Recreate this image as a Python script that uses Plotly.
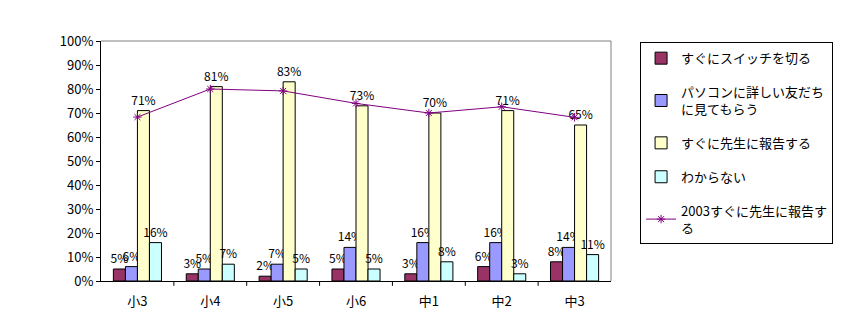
import plotly.graph_objects as go

categories = ["小3", "小4", "小5", "小6", "中1", "中2", "中3"]
switch_off = [5, 3, 2, 5, 3, 6, 8]
ask_friend = [6, 5, 7, 14, 16, 16, 14]
tell_teacher = [71, 81, 83, 73, 70, 71, 65]
dont_know = [16, 7, 5, 5, 8, 3, 11]
tell_teacher_2003 = [68.3, 80, 79.2, 74, 70, 72.6, 68.2]

series_names = [
    "すぐにスイッチを切る",
    "パソコンに詳しい友だち<br>に見てもらう",
    "すぐに先生に報告する",
    "わからない",
]
series_colors = ["#993366", "#9999FF", "#FFFFCC", "#CCFFFF"]
line_name = "2003すぐに先生に報告す<br>る"

FONT = "Noto Sans CJK JP, Liberation Sans, sans-serif"

fig = go.Figure()
for i, (name, vals, col) in enumerate(
    zip(series_names, [switch_off, ask_friend, tell_teacher, dont_know], series_colors)
):
    fig.add_trace(go.Bar(
        x=categories, y=vals, name=name,
        marker=dict(color=col, line=dict(color="black", width=1)),
        text=[f"{v}%" for v in vals], textposition="outside",
        outsidetextfont=dict(size=12, color="black", family=FONT),
        constraintext="none",
        cliponaxis=False, legendgroup=f"g{i}",
    ))

fig.add_trace(go.Scatter(
    x=categories, y=tell_teacher_2003, name=line_name, mode="lines+markers",
    line=dict(color="#800080", width=1),
    marker=dict(symbol="asterisk-open", size=7, color="#800080",
                line=dict(color="#800080", width=1)),
    legendgroup="g4",
))

fig.update_layout(
    width=857, height=336,
    margin=dict(l=101, r=246, t=41, b=55),
    paper_bgcolor="white", plot_bgcolor="white",
    barmode="group", bargap=0.34, bargroupgap=0,
    font=dict(family=FONT, size=12, color="black"),
    showlegend=True,
    legend=dict(
        x=1.057, y=0.995, xanchor="left", yanchor="top",
        bordercolor="black", borderwidth=1, bgcolor="white",
        font=dict(size=13, family=FONT), tracegroupgap=14,
        traceorder="grouped", itemwidth=30,
    ),
    xaxis=dict(
        showline=True, linecolor="black", linewidth=1,
        ticks="", showgrid=False, mirror=False,
        tickfont=dict(size=13), ticklabelstandoff=8,
    ),
    yaxis=dict(
        range=[0, 100], dtick=10, ticksuffix="%",
        showline=True, linecolor="black", linewidth=1,
        ticks="outside", ticklen=4, tickcolor="black",
        showgrid=False, tickfont=dict(size=13), zeroline=False,
    ),
)

# gray frame on the top and right of the plot area
fig.add_shape(type="line", xref="paper", yref="paper", x0=0, x1=1, y0=1, y1=1,
              line=dict(color="#808080", width=1))
fig.add_shape(type="line", xref="paper", yref="paper", x0=1, x1=1, y0=0, y1=1,
              line=dict(color="#808080", width=1))
# category separator ticks on the x axis
for k in range(1, len(categories)):
    fig.add_shape(type="line", xref="x", yref="paper", x0=k - 0.5, x1=k - 0.5,
                  y0=0, y1=-0.02, line=dict(color="black", width=1))

fig.write_html("out.html")
